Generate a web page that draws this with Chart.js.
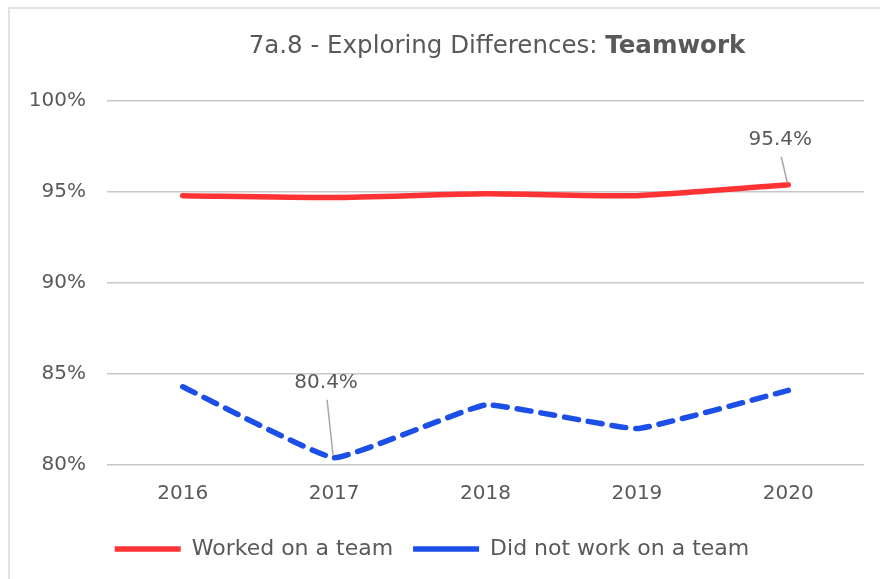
<!DOCTYPE html>
<html>
<head>
<meta charset="utf-8">
<script src="https://cdn.jsdelivr.net/npm/chart.js@4"></script>
<style>
  html, body { margin: 0; padding: 0; background: #ffffff; }
  #wrap { width: 880px; height: 579px; }
</style>
</head>
<body>
<div id="wrap"><canvas id="chart_teamwork" width="880" height="579"></canvas></div>
<script>
// data
const years = ['2016', '2017', '2018', '2019', '2020'];
const worked_team = [94.8, 94.7, 94.9, 94.8, 95.4];
const not_worked_team = [84.3, 80.4, 83.3, 82.0, 84.1];
const y_ticks = [80, 85, 90, 95, 100];
// only these two points carry a value label in the original
const labelled = [[0, 4], [1, 1]];

const FONT = '"DejaVu Sans", sans-serif';
const GREY = '#595959';

const ctx_team = document.getElementById('chart_teamwork');

// frame + title with a bold last word (Chart.js title cannot mix weights)
const titlePlugin = {
  id: 'mixedTitle',
  beforeDraw(chart) {
    const c = chart.ctx;
    c.save();
    c.strokeStyle = '#d9d9d9';
    c.lineWidth = 1.5;
    c.beginPath();
    c.moveTo(9, chart.height);
    c.lineTo(9, 8);
    c.lineTo(chart.width, 8);
    c.stroke();
    c.restore();
  },
  afterDraw(chart) {
    const c = chart.ctx;
    const part1 = '7a.8 - Exploring Differences: ';
    const part2 = 'Teamwork';
    c.save();
    c.fillStyle = GREY;
    c.textBaseline = 'middle';
    c.textAlign = 'left';
    c.font = '24.5px ' + FONT;
    const w1 = c.measureText(part1).width;
    c.font = 'bold 24.5px ' + FONT;
    const w2 = c.measureText(part2).width;
    const x0 = 497 - (w1 + w2) / 2;
    c.font = '24.5px ' + FONT;
    c.fillText(part1, x0, 47);
    c.font = 'bold 24.5px ' + FONT;
    c.fillText(part2, x0 + w1, 47);
    c.restore();
  }
};

// value labels with leader lines
const valueLabels = {
  id: 'valueLabels',
  afterDatasetsDraw(chart) {
    const c = chart.ctx;
    c.save();
    c.font = '20px ' + FONT;
    c.textAlign = 'center';
    c.textBaseline = 'middle';
    labelled.forEach(([d, i]) => {
      const pt = chart.getDatasetMeta(d).data[i];
      const v = chart.data.datasets[d].data[i];
      const lift = d === 0 ? 45 : 75;
      const lx = pt.x - 8, ly = pt.y - lift;
      c.strokeStyle = '#a6a6a6';
      c.lineWidth = 1.5;
      c.beginPath();
      c.moveTo(lx + 1, ly + 17);
      c.lineTo(pt.x - 1, pt.y - 2);
      c.stroke();
      c.fillStyle = GREY;
      c.fillText(v.toFixed(1) + '%', lx, ly);
    });
    c.restore();
  }
};

const configTeam = {
  type: 'line',
  data: {
    labels: years,
    datasets: [{
        label: 'Worked on a team',
        data: worked_team,
        borderColor: '#ff3333',
        backgroundColor: '#ff3333',
        borderWidth: 5.5,
        borderCapStyle: 'round',
        borderJoinStyle: 'round',
        pointRadius: 0,
        fill: false,
        tension: 0.2
    },
    {
        label: 'Did not work on a team',
        data: not_worked_team,
        borderColor: '#1b4fe8',
        backgroundColor: '#1b4fe8',
        borderWidth: 5.5,
        borderDash: [14, 10],
        borderCapStyle: 'round',
        borderJoinStyle: 'round',
        pointRadius: 0,
        fill: false,
        tension: 0.1
    }]},
  options: {
    responsive: false,
    animation: false,
    layout: { padding: { top: 101, left: 0, right: 16, bottom: 9 } },
    plugins: {
      title: { display: false },
      tooltip: { enabled: false },
      legend: {
        position: 'bottom',
        labels: {
          usePointStyle: true,
          pointStyle: 'line',
          pointStyleWidth: 66,
          padding: 20,
          color: GREY,
          font: { family: FONT, size: 22 }
        }
      }
    },
    scales: {
      x: {
        offset: true,
        grid: { display: false },
        border: { display: false },
        ticks: { padding: 9, color: GREY, font: { family: FONT, size: 20 } },
        afterFit(s) { s.height = 53; }
      },
      y: {
        min: 80,
        max: 100,
        afterBuildTicks(s) { s.ticks = y_ticks.map(v => ({ value: v })); },
        ticks: {
          padding: 21,
          color: GREY,
          font: { family: FONT, size: 20 },
          callback: v => v + '%'
        },
        grid: { color: '#c8c8c8', lineWidth: 1.5, drawTicks: false },
        border: { display: false },
        afterFit(s) { s.width = 107; }
      }
    }
  },
  plugins: [titlePlugin, valueLabels]
};

const chartTeam = new Chart(ctx_team, configTeam);
</script>
</body>
</html>
